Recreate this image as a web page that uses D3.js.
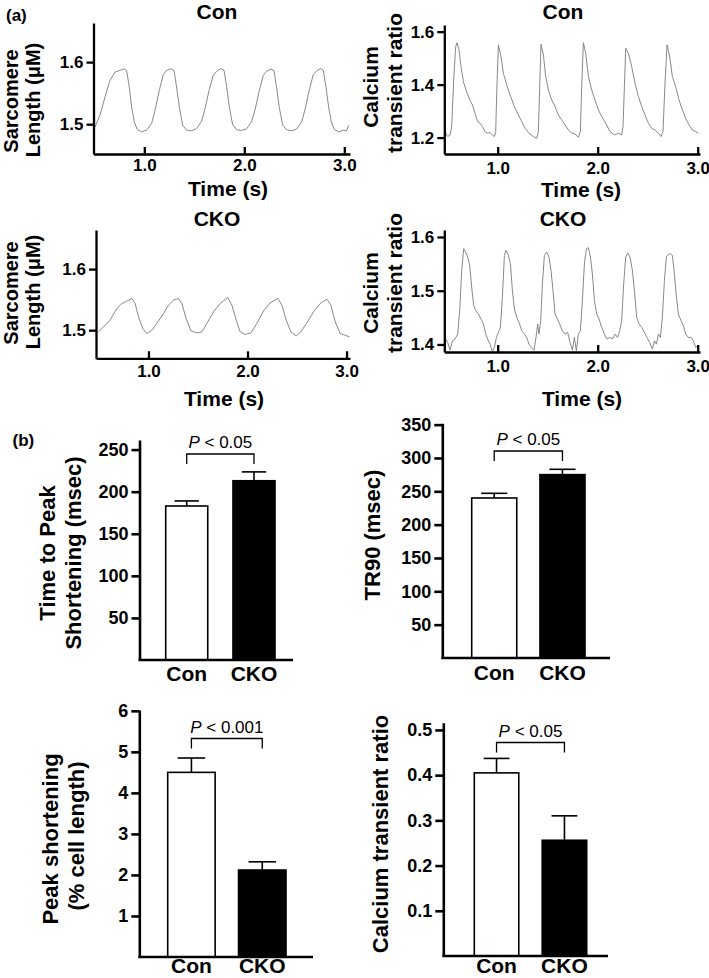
<!DOCTYPE html>
<html>
<head>
<meta charset="utf-8">
<script src="https://cdn.jsdelivr.net/npm/d3@7"></script>
<style>
  body { margin: 0; background: #fff; }
  svg { display: block; font-family: "Liberation Sans", Arial, Helvetica, sans-serif; }
</style>
</head>
<body>
<svg id="fig" width="709" height="978"></svg>
<script>
// ---- traces: [time (s), value] ----
const conSarcomere = [
  [0.507, 1.4957], [0.557, 1.5144], [0.607, 1.5439], [0.657, 1.5706], [0.707, 1.584], [0.757, 1.5866],
  [0.797, 1.5893], [0.823, 1.5866], [0.85, 1.5599], [0.873, 1.5278], [0.9, 1.5037], [0.93, 1.4914],
  [0.973, 1.4877], [1.023, 1.4904], [1.073, 1.5011], [1.107, 1.5225], [1.15, 1.5545], [1.19, 1.5802],
  [1.223, 1.5866], [1.263, 1.5893], [1.297, 1.5866], [1.323, 1.5599], [1.35, 1.528], [1.383, 1.4984],
  [1.423, 1.4904], [1.473, 1.4893], [1.523, 1.493], [1.573, 1.505], [1.607, 1.525], [1.65, 1.556],
  [1.69, 1.579], [1.723, 1.585], [1.763, 1.5895], [1.797, 1.587], [1.823, 1.561], [1.85, 1.528],
  [1.883, 1.4995], [1.923, 1.491], [1.973, 1.49], [2.023, 1.4925], [2.073, 1.504], [2.107, 1.523],
  [2.15, 1.554], [2.19, 1.579], [2.223, 1.585], [2.263, 1.589], [2.297, 1.586], [2.323, 1.559],
  [2.35, 1.527], [2.383, 1.499], [2.423, 1.491], [2.473, 1.4895], [2.523, 1.492], [2.573, 1.5035],
  [2.607, 1.5235], [2.65, 1.555], [2.69, 1.58], [2.723, 1.586], [2.763, 1.5895], [2.79, 1.5866],
  [2.817, 1.5599], [2.843, 1.528], [2.87, 1.5037], [2.9, 1.4914], [2.943, 1.4877], [2.99, 1.4904],
  [3.02, 1.489], [3.045, 1.4984]
];

const conCalcium = [
  [0.473, 1.2226], [0.5, 1.2038], [0.523, 1.21], [0.54, 1.2415], [0.56, 1.4176], [0.58, 1.5434],
  [0.593, 1.5585], [0.613, 1.5308], [0.633, 1.4679], [0.657, 1.4113], [0.683, 1.3799], [0.713, 1.3484],
  [0.747, 1.3233], [0.773, 1.2918], [0.8, 1.2604], [0.823, 1.2541], [0.847, 1.2415], [0.873, 1.2226],
  [0.9, 1.2164], [0.923, 1.2189], [0.947, 1.2101], [0.967, 1.2038], [0.98, 1.2226], [0.993, 1.405],
  [1.007, 1.5497], [1.033, 1.5057], [1.057, 1.4428], [1.09, 1.3987], [1.123, 1.361], [1.167, 1.317],
  [1.207, 1.2855], [1.24, 1.2604], [1.273, 1.2352], [1.313, 1.2164], [1.357, 1.2038], [1.39, 1.1975],
  [1.407, 1.2226], [1.42, 1.3925], [1.433, 1.5522], [1.457, 1.512], [1.48, 1.4302], [1.507, 1.3799],
  [1.54, 1.3421], [1.573, 1.317], [1.607, 1.2855], [1.64, 1.2667], [1.673, 1.2478], [1.707, 1.2289],
  [1.74, 1.2164], [1.773, 1.2138], [1.807, 1.2013], [1.827, 1.2226], [1.84, 1.3925], [1.857, 1.5585],
  [1.88, 1.5182], [1.907, 1.4302], [1.94, 1.3799], [1.973, 1.3421], [2.007, 1.3044], [2.04, 1.2792],
  [2.08, 1.2541], [2.123, 1.2226], [2.167, 1.2101], [2.207, 1.2164], [2.24, 1.2101], [2.253, 1.2415],
  [2.267, 1.3925], [2.28, 1.5371], [2.307, 1.5182], [2.34, 1.4679], [2.373, 1.405], [2.407, 1.3547],
  [2.44, 1.317], [2.473, 1.2855], [2.507, 1.2541], [2.54, 1.2352], [2.573, 1.2289], [2.607, 1.2164],
  [2.633, 1.2038], [2.653, 1.2226], [2.673, 1.405], [2.693, 1.5497], [2.72, 1.5057], [2.747, 1.4302],
  [2.78, 1.3925], [2.813, 1.3421], [2.847, 1.3044], [2.88, 1.2729], [2.913, 1.2478], [2.947, 1.2289],
  [2.98, 1.2226], [3.007, 1.2164]
];

const ckoSarcomere = [
  [0.495, 1.4973], [0.545, 1.5055], [0.613, 1.5164], [0.68, 1.5355], [0.731, 1.5437], [0.781, 1.5475],
  [0.832, 1.5519], [0.865, 1.5437], [0.899, 1.5219], [0.943, 1.5027], [0.983, 1.4945], [1.034, 1.5],
  [1.084, 1.5109], [1.152, 1.5273], [1.202, 1.541], [1.253, 1.5492], [1.303, 1.5519], [1.337, 1.5437],
  [1.38, 1.5191], [1.428, 1.4989], [1.488, 1.4956], [1.539, 1.4973], [1.589, 1.5109], [1.657, 1.5301],
  [1.724, 1.5437], [1.801, 1.5536], [1.842, 1.541], [1.886, 1.5164], [1.926, 1.4973], [1.976, 1.4929],
  [2.034, 1.4956], [2.094, 1.5109], [2.162, 1.5317], [2.229, 1.5448], [2.306, 1.5519], [2.347, 1.541],
  [2.391, 1.5164], [2.438, 1.4973], [2.492, 1.4907], [2.539, 1.4973], [2.599, 1.512], [2.667, 1.5301],
  [2.734, 1.5437], [2.801, 1.5508], [2.842, 1.541], [2.886, 1.5137], [2.936, 1.4945], [2.987, 1.4918],
  [3.03, 1.4891]
];

const ckoCalcium = [
  [0.473, 1.4131], [0.5, 1.4037], [0.523, 1.3894], [0.547, 1.4069], [0.573, 1.41], [0.6, 1.4193],
  [0.62, 1.4629], [0.64, 1.5377], [0.66, 1.5782], [0.68, 1.572], [0.7, 1.5626], [0.72, 1.547],
  [0.74, 1.5065], [0.76, 1.4723], [0.78, 1.4629], [0.807, 1.4567], [0.833, 1.4474], [0.857, 1.438],
  [0.88, 1.4193], [0.9, 1.41], [0.923, 1.4006], [0.947, 1.3869], [0.967, 1.3944], [0.987, 1.4131],
  [1.007, 1.4224], [1.027, 1.4318], [1.047, 1.4879], [1.067, 1.5657], [1.083, 1.5751], [1.107, 1.5657],
  [1.127, 1.5502], [1.147, 1.5003], [1.167, 1.466], [1.19, 1.4505], [1.213, 1.4411], [1.24, 1.4255],
  [1.267, 1.4193], [1.29, 1.4131], [1.313, 1.4006], [1.34, 1.3944], [1.363, 1.3894], [1.383, 1.4131],
  [1.4, 1.438], [1.413, 1.4193], [1.43, 1.4442], [1.447, 1.5128], [1.467, 1.5657], [1.49, 1.572],
  [1.513, 1.5626], [1.533, 1.5377], [1.553, 1.5003], [1.573, 1.4567], [1.597, 1.4474], [1.62, 1.438],
  [1.647, 1.4255], [1.673, 1.4193], [1.7, 1.4224], [1.723, 1.4037], [1.747, 1.3894], [1.767, 1.4131],
  [1.787, 1.3882], [1.807, 1.4193], [1.827, 1.4255], [1.847, 1.4816], [1.867, 1.5502], [1.887, 1.5782],
  [1.907, 1.5801], [1.927, 1.5626], [1.947, 1.5315], [1.967, 1.4816], [1.99, 1.4567], [2.013, 1.4474],
  [2.04, 1.4318], [2.067, 1.4193], [2.093, 1.41], [2.123, 1.4131], [2.147, 1.41], [2.173, 1.4193],
  [2.2, 1.4131], [2.22, 1.4255], [2.24, 1.4442], [2.26, 1.5128], [2.28, 1.5626], [2.3, 1.5701],
  [2.323, 1.5626], [2.347, 1.5377], [2.367, 1.5003], [2.39, 1.4505], [2.413, 1.438], [2.44, 1.4318],
  [2.467, 1.4224], [2.493, 1.4131], [2.52, 1.4037], [2.547, 1.3913], [2.567, 1.4069], [2.587, 1.4006],
  [2.607, 1.4193], [2.627, 1.4131], [2.647, 1.4505], [2.667, 1.519], [2.687, 1.5626], [2.707, 1.5676],
  [2.727, 1.5688], [2.747, 1.5657], [2.767, 1.5315], [2.787, 1.4879], [2.807, 1.4567], [2.833, 1.4442],
  [2.857, 1.4349], [2.88, 1.4193], [2.907, 1.4131], [2.933, 1.4131], [2.957, 1.4069], [2.98, 1.3944],
  [3.0, 1.3975]
];

const timeTicks = [1, 2, 3];

// ---- bar summaries (mean, SEM) ----
const groups = ["Con", "CKO"];
const ttpMean = [183, 213];
const ttpErr = [6, 10.5];
const tr90Mean = [240, 275];
const tr90Err = [7, 8];
const peakShortMean = [4.5, 2.12];
const peakShortErr = [0.35, 0.2];
const caRatioMean = [0.405, 0.256];
const caRatioErr = [0.032, 0.054];

const svg = d3.select("#fig");
const fmt1 = d3.format(".1f");

function styleAxis(sel, w) {
  sel.select(".domain").attr("stroke", "#000").attr("stroke-width", w);
  sel.selectAll(".tick line").attr("stroke", "#000").attr("stroke-width", w);
  sel.selectAll(".tick text").attr("fill", "#000");
}

function yLabel(g, lines) {
  lines.forEach(l => {
    g.append("text")
      .attr("transform", `translate(${l.x}, ${l.y}) rotate(-90)`)
      .attr("text-anchor", "middle")
      .attr("font-size", l.size + "px")
      .attr("font-weight", "bold")
      .text(l.text);
  });
}

function drawTrace(p) {
  const g = svg.append("g");
  const x = d3.scaleLinear().domain(p.xDomain).range([p.left, p.right]);
  const y = d3.scaleLinear().domain(p.yDomain).range([p.bottom, p.top]);

  g.append("path")
    .datum(p.data)
    .attr("d", d3.line().x(d => x(d[0])).y(d => y(d[1])))
    .attr("fill", "none")
    .attr("stroke", "#7a7a7a")
    .attr("stroke-width", 0.9);

  const ya = g.append("g")
    .attr("transform", `translate(${p.left}, 0)`)
    .call(d3.axisLeft(y).tickValues(p.yTicks).tickFormat(fmt1).tickSize(7).tickSizeOuter(0).tickPadding(3));
  ya.selectAll("text").attr("font-size", "17px").attr("font-weight", "bold").attr("font-family", null);
  styleAxis(ya, 2.3);

  const xa = g.append("g")
    .attr("transform", `translate(0, ${p.bottom})`)
    .call(d3.axisBottom(x).tickValues(timeTicks).tickFormat(fmt1).tickSize(-7).tickSizeOuter(0).tickPadding(p.tickPad));
  xa.selectAll("text").attr("font-size", "17px").attr("font-weight", "bold").attr("font-family", null);
  styleAxis(xa, 2.3);

  g.append("text")
    .attr("x", p.titleX).attr("y", p.titleY)
    .attr("text-anchor", "middle")
    .attr("font-size", "21px").attr("font-weight", "bold")
    .text(p.title);

  g.append("text")
    .attr("x", p.xLabelX).attr("y", p.xLabelY)
    .attr("text-anchor", "middle")
    .attr("font-size", "21px").attr("font-weight", "bold")
    .text("Time (s)");

  yLabel(g, p.yLabels);
}

function drawBars(p) {
  const g = svg.append("g");
  const x = d3.scaleBand().domain(groups).range([p.barL, p.barR]).paddingInner(p.pad);
  const y = d3.scaleLinear().domain([0, p.yMax]).range([p.zero, p.top]);
  const rows = groups.map((k, i) => ({ k, v: p.mean[i], e: p.err[i], i }));

  // bars
  g.selectAll("rect.bar")
    .data(rows)
    .enter()
    .append("rect")
    .attr("x", d => x(d.k))
    .attr("y", d => y(d.v))
    .attr("width", x.bandwidth())
    .attr("height", d => y(0) - y(d.v))
    .attr("fill", d => d.i === 0 ? "#fff" : "#000")
    .attr("stroke", "#000")
    .attr("stroke-width", 1.6);

  // error bars (upper only)
  const cap = x.bandwidth() * 0.29;
  rows.forEach(d => {
    const cx = x(d.k) + x.bandwidth() / 2;
    g.append("line")
      .attr("x1", cx).attr("x2", cx)
      .attr("y1", y(d.v)).attr("y2", y(d.v + d.e))
      .attr("stroke", "#000").attr("stroke-width", 1.6);
    g.append("line")
      .attr("x1", cx - cap).attr("x2", cx + cap)
      .attr("y1", y(d.v + d.e)).attr("y2", y(d.v + d.e))
      .attr("stroke", "#000").attr("stroke-width", 1.6);
  });

  // axes
  const ya = g.append("g")
    .attr("transform", `translate(${p.left}, 0)`)
    .call(d3.axisLeft(y).tickValues(p.ticks).tickFormat(p.fmt).tickSize(8).tickSizeOuter(0).tickPadding(3));
  ya.selectAll("text").attr("font-size", "18px").attr("font-weight", "bold").attr("font-family", null);
  styleAxis(ya, 2.6);

  g.append("line")
    .attr("x1", p.left - 1).attr("x2", p.right)
    .attr("y1", y(0)).attr("y2", y(0))
    .attr("stroke", "#000").attr("stroke-width", 2.6);

  // group labels
  g.selectAll("text.grp")
    .data(groups)
    .enter()
    .append("text")
    .attr("x", d => x(d) + x.bandwidth() / 2)
    .attr("y", p.labelY)
    .attr("text-anchor", "middle")
    .attr("font-size", "21px").attr("font-weight", "bold")
    .text(d => d);

  // significance bracket
  const c0 = x(groups[0]) + x.bandwidth() / 2;
  const c1 = x(groups[1]) + x.bandwidth() / 2;
  g.append("path")
    .attr("d", `M${c0},${p.bracketY + 10}V${p.bracketY}H${c1}V${p.bracketY + 10}`)
    .attr("fill", "none").attr("stroke", "#000").attr("stroke-width", 1.3);
  const t = g.append("text")
    .attr("x", (c0 + c1) / 2).attr("y", p.bracketY - 6)
    .attr("text-anchor", "middle")
    .attr("font-size", "17px");
  t.append("tspan").attr("font-style", "italic").text("P");
  t.append("tspan").text(" < " + p.pText);

  yLabel(g, p.yLabels);
}

// ---- panel (a) ----
drawTrace({
  data: conSarcomere, left: 93.5, right: 350, top: 23, bottom: 154,
  xDomain: [0.492, 3.057], yDomain: [1.452, 1.663], yTicks: [1.5, 1.6], tickPad: 4.5,
  title: "Con", titleX: 217, titleY: 19, xLabelX: 228, xLabelY: 196,
  yLabels: [{ text: "Sarcomere", x: 18, y: 101, size: 20 }, { text: "Length (\u03bcM)", x: 40, y: 100, size: 20 }]
});
drawTrace({
  data: conCalcium, left: 444.3, right: 700, top: 25, bottom: 154,
  xDomain: [0.466, 3.023], yDomain: [1.138, 1.625], yTicks: [1.2, 1.4, 1.6], tickPad: 7.5,
  title: "Con", titleX: 563, titleY: 19, xLabelX: 581, xLabelY: 197,
  yLabels: [{ text: "Calcium", x: 377.5, y: 87, size: 21 }, { text: "transient ratio", x: 401.5, y: 83, size: 21 }]
});
drawTrace({
  data: ckoSarcomere, left: 96, right: 350, top: 230, bottom: 358.3,
  xDomain: [0.47, 3.035], yDomain: [1.454, 1.664], yTicks: [1.5, 1.6], tickPad: 7,
  title: "CKO", titleX: 217, titleY: 226, xLabelX: 224, xLabelY: 406,
  yLabels: [{ text: "Sarcomere", x: 18, y: 293, size: 20 }, { text: "Length (\u03bcM)", x: 40, y: 292, size: 20 }]
});
drawTrace({
  data: ckoCalcium, left: 444.3, right: 700, top: 230, bottom: 352,
  xDomain: [0.466, 3.023], yDomain: [1.386, 1.613], yTicks: [1.4, 1.5, 1.6], tickPad: 8,
  title: "CKO", titleX: 563, titleY: 226, xLabelX: 582, xLabelY: 406,
  yLabels: [{ text: "Calcium", x: 377.5, y: 293, size: 21 }, { text: "transient ratio", x: 401.5, y: 283, size: 21 }]
});

// ---- panel (b) ----
drawBars({
  mean: ttpMean, err: ttpErr, left: 139.5, right: 293, zero: 660, top: 440, yMax: 261.4,
  ticks: [50, 100, 150, 200, 250], fmt: d3.format("d"),
  barL: 165.7, barR: 275, pad: 0.375, labelY: 681, bracketY: 454, pText: "0.05",
  yLabels: [{ text: "Time to Peak", x: 55, y: 553, size: 22 }, { text: "Shortening (msec)", x: 80.5, y: 553, size: 22 }]
});
drawBars({
  mean: tr90Mean, err: tr90Err, left: 442.3, right: 610, zero: 658, top: 423.3, yMax: 352,
  ticks: [50, 100, 150, 200, 250, 300, 350], fmt: d3.format("d"),
  barL: 471.7, barR: 585, pad: 0.34, labelY: 680, bracketY: 451, pText: "0.05",
  yLabels: [{ text: "TR90 (msec)", x: 380, y: 535, size: 22 }]
});
drawBars({
  mean: peakShortMean, err: peakShortErr, left: 139.3, right: 313, zero: 957, top: 710, yMax: 6.02,
  ticks: [1, 2, 3, 4, 5, 6], fmt: d3.format("d"),
  barL: 167.7, barR: 286, pad: 0.33, labelY: 973, bracketY: 738.5, pText: "0.001",
  yLabels: [{ text: "Peak shortening", x: 58, y: 839, size: 22 }, { text: "(% cell length)", x: 84, y: 836, size: 22 }]
});
drawBars({
  mean: caRatioMean, err: caRatioErr, left: 443.3, right: 608, zero: 956, top: 722.7, yMax: 0.516,
  ticks: [0.1, 0.2, 0.3, 0.4, 0.5], fmt: fmt1,
  barL: 474.3, barR: 586.7, pad: 0.345, labelY: 973, bracketY: 742.5, pText: "0.05",
  yLabels: [{ text: "Calcium transient ratio", x: 388, y: 834, size: 22 }]
});

// panel letters
svg.append("text").attr("x", 6).attr("y", 21).attr("font-size", "17px").attr("font-weight", "bold").text("(a)");
svg.append("text").attr("x", 12.5).attr("y", 446).attr("font-size", "17px").attr("font-weight", "bold").text("(b)");
</script>
</body>
</html>
